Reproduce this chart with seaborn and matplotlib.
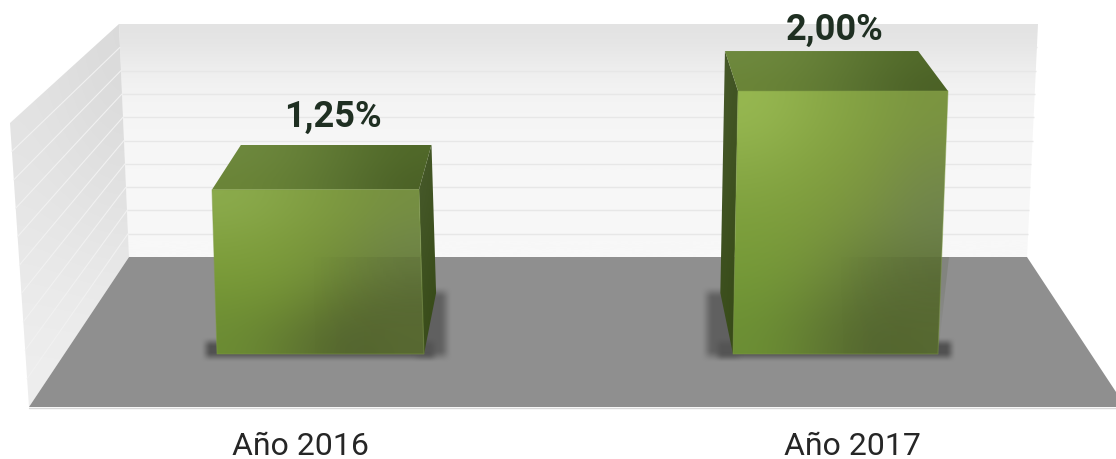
import numpy as np
import pandas as pd
import matplotlib
matplotlib.use("Agg")
import matplotlib.pyplot as plt
from matplotlib.colors import to_rgba
from matplotlib.patches import Polygon
import seaborn as sns

# ---- data ----
categories = ["Año 2016", "Año 2017"]
values = [1.25, 2.00]
value_labels = ["1,25%", "2,00%"]

# ---- style ----
W, H = 1116, 459
sns.set_theme(style="white")
plt.rcParams["font.family"] = ["Roboto", "DejaVu Sans"]
fig = plt.figure(figsize=(W / 100, H / 100), dpi=100)
fig.patch.set_facecolor("white")

BASE_PX, PX_PER_UNIT = 354.0, 131.5
CENTERS_PX = (318.0, 840.0)
UNIT_X = CENTERS_PX[1] - CENTERS_PX[0]

# pixel-space backdrop axes
bg = fig.add_axes([0, 0, 1, 1], zorder=0)
bg.set_xlim(0, W)
bg.set_ylim(H, 0)
bg.axis("off")


def face(poly, grid, z=1, interp="bicubic"):
    """Paint a colour grid into a polygon given in pixel coordinates."""
    poly = np.asarray(poly, float)
    x0, y0 = poly.min(axis=0)
    x1, y1 = poly.max(axis=0)
    arr = np.array([[to_rgba(c) for c in row] for row in grid])
    im = bg.imshow(arr, extent=(x0, x1, y1, y0), aspect="auto",
                   interpolation=interp, zorder=z)
    clip = Polygon(poly, closed=True, transform=bg.transData)
    im.set_clip_path(clip)
    return im


def soft_box(x0, x1, y0, y1, blur, color, strength, z):
    xs = np.linspace(x0, x1, int(x1 - x0))[None, :]
    ys = np.linspace(y0, y1, int(y1 - y0))[:, None]
    sm = lambda v: v * v * (3 - 2 * v)
    fx = sm(np.clip((xs - x0) / blur, 0, 1)) * sm(np.clip((x1 - xs) / blur, 0, 1))
    fy = sm(np.clip((ys - y0) / blur, 0, 1)) * sm(np.clip((y1 - ys) / blur, 0, 1))
    a = fx * fy * strength
    r, g, b, _ = to_rgba(color)
    arr = np.dstack([np.full(a.shape, r), np.full(a.shape, g), np.full(a.shape, b), a])
    bg.imshow(arr, extent=(x0, x1, y1, y0), aspect="auto", interpolation="bilinear", zorder=z)


# walls
wall_back = [(119, 24), (1038, 24), (1027, 257), (129, 257)]
wall_left = [(119, 24), (10, 123), (29, 407), (129, 257)]
floor = [(129, 257), (1027, 257), (1116, 392), (1116, 407), (29, 407)]

face(wall_back, [["#e3e3e3"], ["#eeeeee"], ["#f4f4f4"], ["#f6f6f6"], ["#f7f7f7"],
                 ["#f7f7f7"], ["#f8f8f8"], ["#f8f8f8"]], z=1)
face(wall_left, [["#e2e2e2", "#dadada"], ["#e6e6e6", "#e3e3e3"], ["#eeeeee", "#eeeeee"]], z=1)
bg.add_patch(Polygon(floor, closed=True, facecolor="#8f8f8f", edgecolor="none", zorder=2))
bg.plot([29, 1116], [407.5, 407.5], color="#d9d9d9", lw=1, zorder=2)

# value-axis grid on the walls (10 divisions)
for t in np.arange(1, 10) / 10:
    by = 24 + 233 * t
    bl = 119 + 10 * t
    br = 1038 - 11 * t
    bg.plot([bl, br], [by, by], color="#e7e7e7", lw=1.0, zorder=1.5, solid_capstyle="butt")
    bg.plot([10 + 19 * t, bl], [123 + 284 * t, by], color="#f1f1f1", lw=0.8, zorder=1.5)

# main data axes: y=0 sits on the bars' base line
ax = fig.add_axes([0, 1 - BASE_PX / H, 1, BASE_PX / H], zorder=2)
ax.patch.set_alpha(0)
df = pd.DataFrame({"cat": categories, "val": values})
sns.barplot(data=df, x="cat", y="val", order=categories, width=0.4, ax=ax,
            color="#7a9a3e", saturation=1, errorbar=None)
ax.set_xlim(-CENTERS_PX[0] / UNIT_X, (W - CENTERS_PX[0]) / UNIT_X)
ax.set_ylim(0, BASE_PX / PX_PER_UNIT)
for s in ax.spines.values():
    s.set_visible(False)
ax.set_xlabel("")
ax.set_ylabel("")
ax.set_yticks([])
ax.set_xticks([-0.033, 1.023])
ax.set_xticklabels(categories, fontsize=23, color="#262626")
ax.tick_params(axis="x", length=0, pad=56)

# per-bar front-face skew (px): top-left, top-right, bottom-left, bottom-right
skews = [(-1.6, -3.4, 3.4, 1.6), (2.4, 3.6, -2.6, -6.4)]
back_y_scale = [0.902, 0.92]
shadow_bottom = [(200, 440, 336, 363), (712, 957, 336, 363)]
shadow_side = [(410, 453, 285, 363), (700, 745, 285, 363)]
label_x_px = [333, 835]
label_gap_px = [63, 51]

front_grids = [
    [["#8bab4c", "#84a245", "#7c983f", "#768f42"],
     ["#82a241", "#7e9c3d", "#77913d", "#718748"],
     ["#7b9c39", "#78973a", "#6f883a", "#6b7f42"],
     ["#729335", "#6f8b34", "#5f7332", "#5c6d36"],
     ["#6c8c34", "#627a31", "#546530", "#5a6b33"]],
    [["#97b851", "#8cab48", "#82a042", "#7b9540"],
     ["#88a946", "#83a240", "#7e983f", "#758a48"],
     ["#7d9f3c", "#7c9a3d", "#778f42", "#6f834e"],
     ["#759a38", "#738f3a", "#63793a", "#62743c"],
     ["#6c8f34", "#627c32", "#546630", "#586a32"]],
]
top_grid = [["#6e893e", "#688239", "#5b7431", "#506829"],
            ["#6b8538", "#647e35", "#587030", "#4b6126"]]
side_grid = [["#46592a", "#425524"], ["#3b4e1c", "#374a18"]]


def to_back(p, i):
    return (0.92 * p[0] + 46, 293 + back_y_scale[i] * (p[1] - 354))


for i, (bar, val) in enumerate(zip(ax.patches, values)):
    x0_d, w_d = bar.get_x(), bar.get_width()
    (px0, py_top) = ax.transData.transform((x0_d, val))
    (px1, py_base) = ax.transData.transform((x0_d + w_d, 0))
    y_top, y_bot = H - py_top, H - py_base
    tl_s, tr_s, bl_s, br_s = skews[i]
    tl = (px0 + tl_s, y_top)
    tr = (px1 + tr_s, y_top)
    bl = (px0 + bl_s, y_bot)
    br = (px1 + br_s, y_bot)

    bar.set_facecolor("none")
    bar.set_edgecolor("none")

    soft_box(*shadow_bottom[i], 11, "#4a4a4a", 0.9, 3)
    soft_box(*shadow_side[i], 13, "#555555", 0.8, 3)

    # side face (the one turned to the chart's centre)
    if i == 0:
        face([tr, to_back(tr, i), to_back(br, i), br], side_grid, z=4)
    else:
        face([to_back(tl, i), tl, bl, to_back(bl, i)], side_grid, z=4)

    # top face
    face([tl, tr, to_back(tr, i), to_back(tl, i)], top_grid, z=5)

    # front face
    front = [tl, tr, br, bl]
    face(front, front_grids[i], z=6)

    # soft change of tone where the back of the floor is reflected
    mid = (tl[0] + tr[0]) / 2
    tone = (0.2, 0.25, 0.1)
    fade = [[(*tone, 0.0), (*tone, 0.05), (*tone, 0.1), (*tone, 0.14)],
            [(*tone, 0.0), (*tone, 0.03), (*tone, 0.05), (*tone, 0.04)]]
    face([(mid - 20, 257), (tr[0] + 1, 257), (br[0], y_bot), (mid - 20, y_bot)], fade, z=7, interp="bilinear")

    bg.add_patch(Polygon(front, closed=True, fill=False, edgecolor="#7f9c45",
                         lw=0.8, alpha=0.45, zorder=8))

    # value label, placed from the bar's own height
    ax.annotate(value_labels[i], xy=(label_x_px[i], py_top), xycoords="figure pixels",
                xytext=(0, label_gap_px[i] / 100 * 72), textcoords="offset points",
                ha="center", va="baseline", fontsize=26, fontweight="bold", color="#1f2f22")

fig.savefig("out.png", dpi=100)
